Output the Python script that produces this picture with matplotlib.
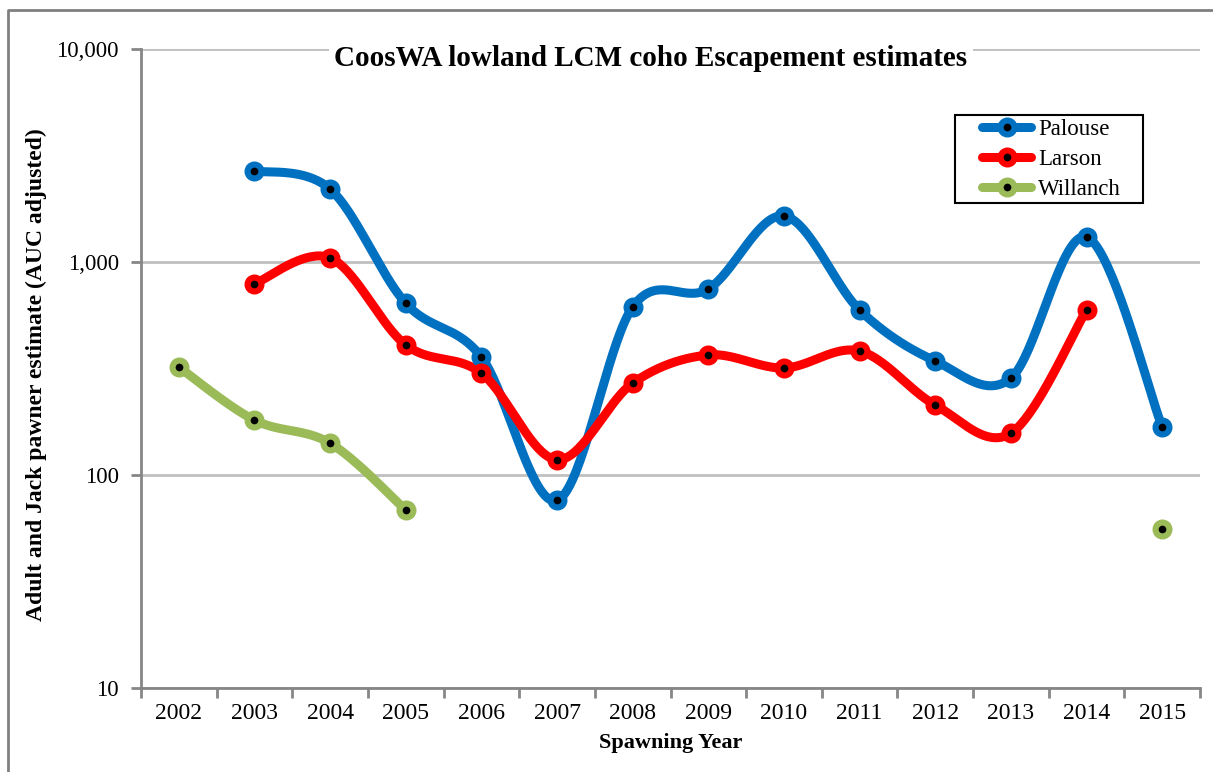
import matplotlib
matplotlib.use("Agg")
import matplotlib.pyplot as plt
import numpy as np
from matplotlib.lines import Line2D
from matplotlib.patches import Rectangle
from matplotlib.ticker import FixedLocator, NullLocator

years = ["2002", "2003", "2004", "2005", "2006", "2007", "2008",
         "2009", "2010", "2011", "2012", "2013", "2014", "2015"]
nan = np.nan
palouse = [nan, 2680, 2200, 640, 358, 76, 615, 747, 1645, 595, 343, 285, 1310, 168]
larson = [nan, 790, 1045, 408, 301, 118, 270, 366, 318, 382, 213, 157, 595, nan]
willanch = [321, 181, 141, 68.5, nan, nan, nan, nan, nan, nan, nan, nan, nan, 56]

series = [("Palouse", palouse, "#0070c0"),
          ("Larson", larson, "#ff0000"),
          ("Willanch", willanch, "#9bbb59")]

plt.rcParams['font.family'] = ['Liberation Serif', 'DejaVu Serif']


def smooth(xs, ys, n=40):
    # Catmull-Rom style bezier through points, done in (x, log10 y) space
    ly = np.log10(ys)
    pts = np.column_stack([xs, ly])
    out = []
    for i in range(len(pts) - 1):
        p0 = pts[i - 1] if i > 0 else pts[i]
        p1 = pts[i]
        p2 = pts[i + 1]
        p3 = pts[i + 2] if i + 2 < len(pts) else pts[i + 1]
        c1 = p1 + (p2 - p0) / 6
        c2 = p2 - (p3 - p1) / 6
        t = np.linspace(0, 1, n)[:, None]
        seg = ((1 - t) ** 3 * p1 + 3 * (1 - t) ** 2 * t * c1
               + 3 * (1 - t) * t ** 2 * c2 + t ** 3 * p2)
        out.append(seg)
    seg = np.vstack(out)
    return seg[:, 0], 10 ** seg[:, 1]


fig = plt.figure(figsize=(12.13, 7.72), dpi=100)
ax = fig.add_axes([141 / 1213, 1 - 688 / 772, (1200 - 141) / 1213, (688 - 49) / 772])

x = np.arange(len(years))
for name, vals, col in series:
    v = np.array(vals, dtype=float)
    ok = ~np.isnan(v)
    # split into contiguous runs
    runs = []
    cur = []
    for i in range(len(v)):
        if ok[i]:
            cur.append(i)
        elif cur:
            runs.append(cur)
            cur = []
    if cur:
        runs.append(cur)
    for r in runs:
        r = np.array(r)
        if len(r) > 1:
            sx, sy = smooth(x[r].astype(float), v[r])
            ax.plot(sx, sy, color=col, lw=6.5, solid_capstyle='round', zorder=3)
        ax.plot(x[r], v[r], 'o', ms=10, mfc='black', mec=col, mew=4.4, zorder=4)

ax.set_yscale('log')
ax.set_ylim(10, 10000)
ax.set_xlim(-0.5, len(years) - 0.5)
ax.yaxis.set_major_locator(FixedLocator([10, 100, 1000, 10000]))
ax.yaxis.set_minor_locator(NullLocator())
ax.set_yticklabels(["10", "100", "1,000", "10,000"])
ax.set_xticks(x)
ax.set_xticklabels(years)
ax.set_xticks(np.arange(-0.5, len(years)), minor=True)
ax.tick_params(axis='x', which='major', length=0, pad=11, labelsize=17)
ax.tick_params(axis='x', which='minor', length=7, width=2, color='#868686')
ax.tick_params(axis='y', length=7, width=2, color='#868686', pad=9, labelsize=16.5)

ax.grid(axis='y', color='#c0c0c0', lw=2)
ax.set_axisbelow(True)
for s in ['top', 'right']:
    ax.spines[s].set_visible(False)
for s in ['left', 'bottom']:
    ax.spines[s].set_color('#868686')
    ax.spines[s].set_linewidth(2)

ax.set_xlabel("Spawning Year", fontsize=16, fontweight='bold', labelpad=6)
ax.set_ylabel("Adult and Jack pawner estimate (AUC adjusted)", fontsize=17,
              fontweight='bold')
ax.yaxis.set_label_coords((47 - 141) / 1059, (688 - 375) / 639)

fig.text(651 / 1213, 1 - 58 / 772, "CoosWA lowland LCM coho Escapement estimates",
         ha='center', va='center', fontsize=21, fontweight='bold',
         bbox=dict(facecolor='white', edgecolor='none', pad=4), zorder=5)

# legend: frame drawn separately so the inner padding can differ per side
fig.add_artist(Rectangle((955 / 1213, 1 - 203 / 772), 188 / 1213, 88 / 772,
                         transform=fig.transFigure, facecolor='white',
                         edgecolor='black', lw=1.5, zorder=6))
handles = [Line2D([], [], color=c, lw=6.5, solid_capstyle='round', marker='o',
                  ms=10, mfc='black', mec=c, mew=4.4) for _, _, c in series]
leg = fig.legend(handles, [s[0] for s in series], loc='upper left',
                 bbox_to_anchor=(982 / 1213, 1 - 119 / 772),
                 bbox_transform=fig.transFigure, fontsize=16.5, frameon=False,
                 handlelength=2.15, handletextpad=0.3, labelspacing=0.4,
                 borderpad=0, borderaxespad=0)
leg.set_zorder(7)

# outer chart border (top and left edges visible)
fig.add_artist(Line2D([8 / 1213, 8 / 1213, 1.0], [0, 1 - 10 / 772, 1 - 10 / 772],
                      transform=fig.transFigure, color='#808080', lw=2))

fig.savefig("out.png", dpi=100)
